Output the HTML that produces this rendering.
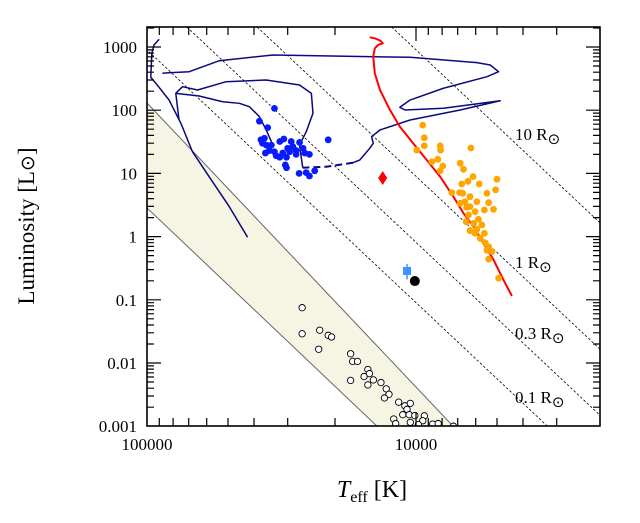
<!DOCTYPE html>
<html><head><meta charset="utf-8"><style>
html,body{margin:0;padding:0;background:#fff;}
svg{display:block;font-family:"Liberation Serif","DejaVu Serif",serif;}
</style></head>
<body>
<svg id="chart" width="640" height="523" viewBox="0 0 640 523" xmlns="http://www.w3.org/2000/svg">
<defs><clipPath id="pc"><rect x="147" y="27" width="453" height="399"/></clipPath></defs>
<g id="plot" clip-path="url(#pc)"></g>
<rect x="147" y="27" width="453" height="399" fill="none" stroke="#000" stroke-width="1.6"/>
<g stroke="#000" stroke-width="1.2" fill="none">
<path d="M147 47h14M147 110.2h14M147 173.4h14M147 236.6h14M147 299.8h14M147 363h14M600 47h-14M600 110.2h-14M600 173.4h-14M600 236.6h-14M600 299.8h-14M600 363h-14"/>
<path d="M147 407.2h7M147 396h7M147 388.2h7M147 382h7M147 377h7M147 372.8h7M147 369.1h7M147 365.9h7M147 344h7M147 332.8h7M147 325h7M147 318.8h7M147 313.8h7M147 309.6h7M147 305.9h7M147 302.7h7M147 280.8h7M147 269.6h7M147 261.8h7M147 255.6h7M147 250.6h7M147 246.4h7M147 242.7h7M147 239.5h7M147 217.6h7M147 206.4h7M147 198.6h7M147 192.4h7M147 187.4h7M147 183.2h7M147 179.5h7M147 176.3h7M147 154.4h7M147 143.2h7M147 135.4h7M147 129.2h7M147 124.2h7M147 120h7M147 116.3h7M147 113.1h7M147 91.2h7M147 80h7M147 72.2h7M147 66h7M147 61h7M147 56.8h7M147 53.1h7M147 49.9h7M147 28h7"/>
<path d="M600 407.2h-7M600 396h-7M600 388.2h-7M600 382h-7M600 377h-7M600 372.8h-7M600 369.1h-7M600 365.9h-7M600 344h-7M600 332.8h-7M600 325h-7M600 318.8h-7M600 313.8h-7M600 309.6h-7M600 305.9h-7M600 302.7h-7M600 280.8h-7M600 269.6h-7M600 261.8h-7M600 255.6h-7M600 250.6h-7M600 246.4h-7M600 242.7h-7M600 239.5h-7M600 217.6h-7M600 206.4h-7M600 198.6h-7M600 192.4h-7M600 187.4h-7M600 183.2h-7M600 179.5h-7M600 176.3h-7M600 154.4h-7M600 143.2h-7M600 135.4h-7M600 129.2h-7M600 124.2h-7M600 120h-7M600 116.3h-7M600 113.1h-7M600 91.2h-7M600 80h-7M600 72.2h-7M600 66h-7M600 61h-7M600 56.8h-7M600 53.1h-7M600 49.9h-7M600 28h-7"/>
<path d="M416 426v-14M159.3 426v-8M173.1 426v-8M188.7 426v-8M206.7 426v-8M228 426v-8M254 426v-8M287.7 426v-8M335 426v-8M428.3 426v-8M442.1 426v-8M457.7 426v-8M475.7 426v-8M497 426v-8M523 426v-8M556.7 426v-8"/>
<path d="M416 27v14M159.3 27v8M173.1 27v8M188.7 27v8M206.7 27v8M228 27v8M254 27v8M287.7 27v8M335 27v8M428.3 27v8M442.1 27v8M457.7 27v8M475.7 27v8M497 27v8M523 27v8M556.7 27v8"/>
</g>
<g id="axes"></g>
<text x="34" y="226" font-size="23" text-anchor="middle" transform="rotate(-90 34 226)">Luminosity [L<tspan font-family="DejaVu Sans" font-size="19">⊙</tspan>]</text>
<text x="372" y="497" font-size="24" text-anchor="middle"><tspan font-style="italic">T</tspan><tspan font-size="16" dy="5">eff</tspan><tspan dy="-5"> [K]</tspan></text>
</svg>
<script>
const NS="http://www.w3.org/2000/svg";
// ---- data ----
const yTickValues=[1000,100,10,1,0.1,0.01,0.001];
const yTickLabels=["1000","100","10","1","0.1","0.01","0.001"];
const xTickValues=[100000,10000];
const xTickLabels=["100000","10000"];
const radii=[10,1,0.3,0.1];
const radiusLabels=["10 R","1 R","0.3 R","0.1 R"];
const blueT=[33600,38200,35600,21200,36600,37200,36000,34500,32100,31000,29100,27100,26300,30000,31300,33100,36300,32100,30300,27900,25900,24900,30600,30300,27200,25600,24900,23800,28700,27900,37700,35100,29500,33600];
const blueL=[107,67,53,34,36,30,28,28,32,35,32,31,25,25,21,19,21,18,18,20,21,20,13.6,12.3,10,10.3,9.1,11,26.5,23,34,23,22,22];
const orangeT=[9440,9310,9310,9930,8130,8100,6250,8730,8300,7950,8130,6850,6660,6140,5000,6410,6760,5820,7360,6890,5060,5450,6300,6570,6850,5370,5570,5150,6480,6030,6380,5860,6110,6510,5690,5940,6300,5570,5770,5530,5370,5220,5450,5370,4930,6030,6300,5940,6710];
const orangeL=[58,36.7,27.4,23.4,27.2,23.4,25.2,15.3,16.7,13.1,11,14.5,11.6,8.9,8.1,7.5,6.8,6.8,4.96,4.96,5.5,4.84,4.28,3.56,3.36,3.44,2.64,2.7,2.91,2.48,2.2,1.88,1.62,1.72,1.53,1.31,1.24,1.13,0.94,0.8,0.69,0.58,0.61,0.44,0.22,1.13,2.98,3.56,4.84];
const wdT=[26500,26500,22800,21200,20600,23000,17500,17200,16500,17500,15100,14900,15600,15100,14400,13500,12900,12600,13100,11600,11000,10500,10800,11200,10600,10100,9310,12100,10500,11900,9440,9800,8670,8270,7260];
const wdL=[0.075,0.029,0.033,0.0274,0.0258,0.0165,0.014,0.0106,0.0106,0.0053,0.0079,0.0068,0.0061,0.0045,0.0054,0.0049,0.0039,0.0032,0.0028,0.0024,0.0021,0.0023,0.00185,0.00152,0.00152,0.00147,0.00146,0.0013,0.00115,0.0011,0.00122,0.00106,0.00108,0.0011,0.001];
const redTrackT=[14860,14230,13550,13310,13830,14230,14420,14230,13610,12500,11480,10240,9120,8130,7260,6660,6110,5610,5150,4730,4400];
const redTrackL=[1423,1374,1259,1146,1076,953,703,384,209,101,54.8,29.9,16.3,8.87,4.28,2.34,1.44,0.78,0.43,0.206,0.115];
const trackMainLogT=[4.626,4.694,4.769,4.831,4.874,4.918,4.962,4.986,4.982,4.974,4.955];
const trackMainLogL=[-0.011,0.473,0.948,1.343,1.793,2.161,2.399,2.521,2.900,3.032,3.122];
const trackLoopLogT=[4.943,4.918,4.843,4.731,4.532,4.022,3.774,3.724,3.693,3.736,3.898,4.022,4.060,4.041,3.898,3.687,3.836,4.022,4.134,4.165,4.159,4.172,4.209,4.234];
const trackLoopLogL=[2.584,2.593,2.609,2.783,2.873,2.837,2.752,2.715,2.609,2.530,2.347,2.161,2.046,2.003,2.030,2.150,2.003,1.845,1.687,1.581,1.476,1.397,1.212,1.169];
const trackDashLogT=[4.234,4.333,4.421];
const trackDashLogL=[1.169,1.106,1.090];
const trackInnerLogT=[4.421,4.433,4.408,4.383,4.389,4.433,4.557,4.706,4.812,4.868,4.893,4.881];
const trackInnerLogL=[1.090,1.449,1.660,1.951,2.267,2.399,2.478,2.451,2.320,2.372,2.267,1.845];
const trackBranchLogT=[4.893,4.806,4.719,4.657,4.619,4.582,4.557,4.537];
const trackBranchLogL=[2.267,2.225,2.134,2.109,2.055,1.897,1.687,1.497];
const diamondT=[13300], diamondL=[8.45];
const squareT=[10800], squareL=[0.286], squareLlo=[0.21], squareLhi=[0.37];
const blackT=[10100], blackL=[0.198];
const bandUpperT=[100000,7280], bandUpperL=[130,0.001];
const bandLowerT=[100000,13960], bandLowerL=[2.84,0.001];
// ---- scales ----
const X0=147,XD=269,Y0=47,YD=63.2;
const xLog=lt=>X0+(5-lt)*XD, yLog=ll=>Y0+(3-ll)*YD;
const xOf=T=>xLog(Math.log10(T)), yOf=L=>yLog(Math.log10(L));
const plot=document.getElementById('plot'), axes=document.getElementById('axes');
function mk(tag,attrs,parent){const e=document.createElementNS(NS,tag);for(const k in attrs)e.setAttribute(k,attrs[k]);parent.appendChild(e);return e;}
// band
{const pts=[[xOf(bandUpperT[0]),yOf(bandUpperL[0])],[xOf(bandUpperT[1]),yOf(bandUpperL[1])],[xOf(bandLowerT[1]),yOf(bandLowerL[1])],[xOf(bandLowerT[0]),yOf(bandLowerL[0])]];
const pg=mk('polygon',{points:pts.map(p=>p.join(',')).join(' '),fill:'#f6f4e2',stroke:'none'},plot);


[[0,1],[3,2]].forEach(([a,b])=>{const l=mk('line',{x1:pts[a][0],y1:pts[a][1],x2:pts[b][0],y2:pts[b][1],stroke:'#666',"stroke-width":1},plot);

});}
// radius lines
radii.forEach((R,i)=>{const L1=1e4,L2=1e-4;const T1=5772*Math.pow(L1/(R*R),0.25),T2=5772*Math.pow(L2/(R*R),0.25);
const l=mk('line',{x1:xOf(T1),y1:yOf(L1),x2:xOf(T2),y2:yOf(L2),stroke:'#000',"stroke-width":0.8,"stroke-dasharray":"2.5,2"},plot);

});
// tracks
function drawTrack(lt,ll,attrs,name){const p=mk('polyline',Object.assign({points:lt.map((t,i)=>xLog(t)+','+yLog(ll[i])).join(' '),fill:'none'},attrs),plot);

}
const navy={stroke:'#0a0a80',"stroke-width":1.5,"stroke-linejoin":"round"};
drawTrack(trackMainLogT,trackMainLogL,navy,'evolution-track-main');
drawTrack(trackLoopLogT,trackLoopLogL,navy,'evolution-track-loop');
drawTrack(trackDashLogT,trackDashLogL,Object.assign({},navy,{"stroke-dasharray":"7,4","stroke-width":2}),'evolution-track-dashed');
drawTrack(trackInnerLogT,trackInnerLogL,navy,'evolution-track-inner');
drawTrack(trackBranchLogT,trackBranchLogL,navy,'evolution-track-branch');
{const p=mk('polyline',{points:redTrackT.map((t,i)=>xOf(t)+','+yOf(redTrackL[i])).join(' '),fill:'none',stroke:'#f00',"stroke-width":2},plot);

}
// scatter
blueT.forEach((t,i)=>{const c=mk('circle',{cx:xOf(t),cy:yOf(blueL[i]),r:3.4,fill:'#0a1aff'},plot);

});
orangeT.forEach((t,i)=>{const c=mk('circle',{cx:xOf(t),cy:yOf(orangeL[i]),r:3.4,fill:'#ffa500'},plot);

});
wdT.forEach((t,i)=>{const c=mk('circle',{cx:xOf(t),cy:yOf(wdL[i]),r:3.2,fill:'#fff',stroke:'#000',"stroke-width":0.9},plot);

});
{const x=xOf(diamondT[0]),y=yOf(diamondL[0]);const d=mk('polygon',{points:`${x},${y-7} ${x+4.5},${y} ${x},${y+7} ${x-4.5},${y}`,fill:'#f00'},plot);

}
{const x=xOf(squareT[0]);const e=mk('line',{x1:x,x2:x,y1:yOf(squareLhi[0]),y2:yOf(squareLlo[0]),stroke:'#3a96ff',"stroke-width":1.5},plot);


const s=mk('rect',{x:x-4,y:yOf(squareL[0])-4,width:8,height:8,fill:'#3a96ff'},plot);

}
{const c=mk('circle',{cx:xOf(blackT[0]),cy:yOf(blackL[0]),r:5,fill:'#000'},plot);

}
// radius labels
const rlPos=[[515,140],[515,268],[515,339],[515,403]];
radiusLabels.forEach((s,i)=>{const t=mk('text',{x:rlPos[i][0],y:rlPos[i][1],"font-size":17},axes);
t.textContent=s;
const o=mk('tspan',{"font-family":"DejaVu Sans","font-size":15,dy:4},t);o.textContent='⊙';

});
yTickValues.forEach((v,i)=>{const t=mk('text',{x:137,y:yOf(v)+6,"font-size":17,"text-anchor":"end"},axes);t.textContent=yTickLabels[i];

});
xTickValues.forEach((v,i)=>{const t=mk('text',{x:xOf(v),y:450,"font-size":17,"text-anchor":"middle"},axes);t.textContent=xTickLabels[i];

});
</script>
</body></html>
